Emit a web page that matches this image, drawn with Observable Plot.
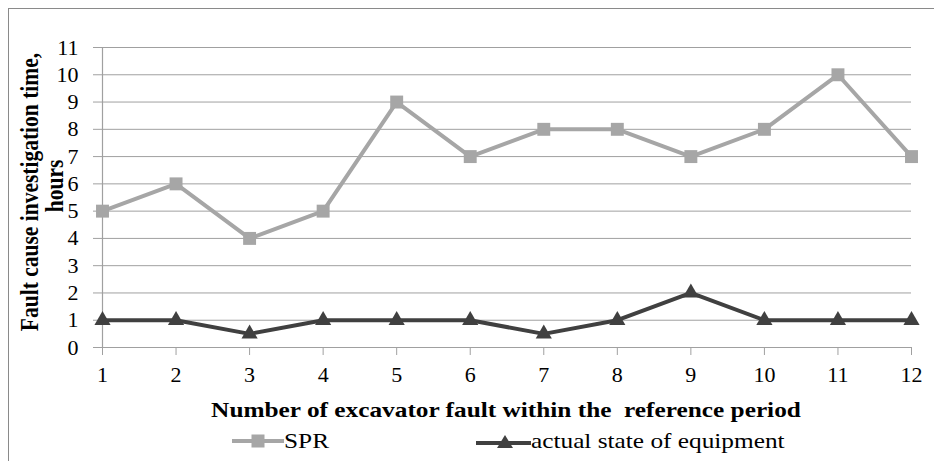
<!DOCTYPE html>
<html>
<head>
<meta charset="utf-8">
<script src="https://cdn.jsdelivr.net/npm/d3@7"></script>
<script src="https://cdn.jsdelivr.net/npm/@observablehq/plot@0.6"></script>
<style>
  html, body { margin: 0; padding: 0; background: #fff; }
  #wrap { position: relative; width: 934px; height: 461px; overflow: hidden; font-family: "Liberation Serif", "Times New Roman", serif; }
  #frame { position: absolute; left: 8px; top: 8px; width: 1000px; height: 600px; border: 1.5px solid #8a8a8a; box-sizing: border-box; pointer-events: none; }
  .ytitle { position: absolute; font-weight: bold; font-size: 21.5px; white-space: nowrap; transform: translate(-50%, -50%) rotate(-90deg) scaleY(1.15); color: #000; }
  #xtitle { position: absolute; left: 506px; top: 410px; transform: translate(-50%, -50%) scaleX(1.15); font-weight: bold; font-size: 22px; white-space: pre; }
  .leg { position: absolute; top: 441px; transform: translateY(-50%); display: flex; align-items: center; white-space: nowrap; }
  .leg span { display: inline-block; font-size: 22px; transform: scaleX(1.15); transform-origin: left center; }
  .leg svg { display: block; }
</style>
</head>
<body>
<div id="wrap">
  <div id="chart"></div>
  <div class="ytitle" style="left:31px; top:192px;">Fault cause investigation time,</div>
  <div class="ytitle" style="left:56px; top:186px;">hours</div>
  <div id="xtitle">Number of excavator fault within the  reference period</div>
  <div class="leg" style="left:232px;">
    <svg width="52" height="16"><line x1="0" y1="8" x2="52" y2="8" stroke="#a6a6a6" stroke-width="4"/><rect x="19.5" y="1.5" width="13" height="13" fill="#a6a6a6"/></svg><span>SPR</span>
  </div>
  <div class="leg" style="left:476px;">
    <svg width="55" height="16"><line x1="0" y1="10" x2="55" y2="10" stroke="#404040" stroke-width="4"/><path d="M29,2 L37,15 L21,15 Z" fill="#404040"/></svg><span>actual state of equipment</span>
  </div>
  <div id="frame"></div>
</div>
<script>
const faults = [1,2,3,4,5,6,7,8,9,10,11,12];
const spr = [5,6,4,5,9,7,8,8,7,8,10,7];
const actual = [1,1,0.5,1,1,1,0.5,1,2,1,1,1];
const yTicks = [0,1,2,3,4,5,6,7,8,9,10,11];

const sprData = faults.map((f,i) => ({f, v: spr[i]}));
const actData = faults.map((f,i) => ({f, v: actual[i]}));

const chart = Plot.plot({
  width: 934,
  height: 461,
  marginLeft: 102,
  marginRight: 23,
  marginTop: 47,
  marginBottom: 114,
  style: { fontFamily: "'Liberation Serif', 'Times New Roman', serif", fontSize: "22px", color: "#000", background: "transparent" },
  x: { domain: [1,12], ticks: faults, tickFormat: d => String(d), label: null },
  y: { domain: [0,11], ticks: yTicks, label: null },
  marks: [
    Plot.gridY(yTicks, { stroke: "#a0a0a0", strokeOpacity: 1, strokeWidth: 1 }),
    Plot.axisY(yTicks, { tickSize: 9, tickPadding: 15, stroke: "#a0a0a0", fill: "#000", fontSize: 22 }),
    Plot.axisX(faults, { tickSize: 8, tickPadding: 11, stroke: "#a0a0a0", fill: "#000", fontSize: 22, tickFormat: d => String(d) }),
    Plot.ruleY([0], { stroke: "#a0a0a0", strokeWidth: 1.2, x1: 1, x2: 12, insetLeft: -9 }),
    Plot.ruleX([1], { stroke: "#a0a0a0", strokeWidth: 1.2 }),
    Plot.line(sprData, { x: "f", y: "v", stroke: "#a6a6a6", strokeWidth: 4 }),
    Plot.dot(sprData, { x: "f", y: "v", symbol: "square", r: 7.3, fill: "#a6a6a6", stroke: "none" }),
    Plot.line(actData, { x: "f", y: "v", stroke: "#404040", strokeWidth: 4 }),
    Plot.dot(actData, { x: "f", y: "v", symbol: "triangle", r: 6, fill: "#404040", stroke: "none" })
  ]
});
document.getElementById("chart").appendChild(chart);
</script>
</body>
</html>
